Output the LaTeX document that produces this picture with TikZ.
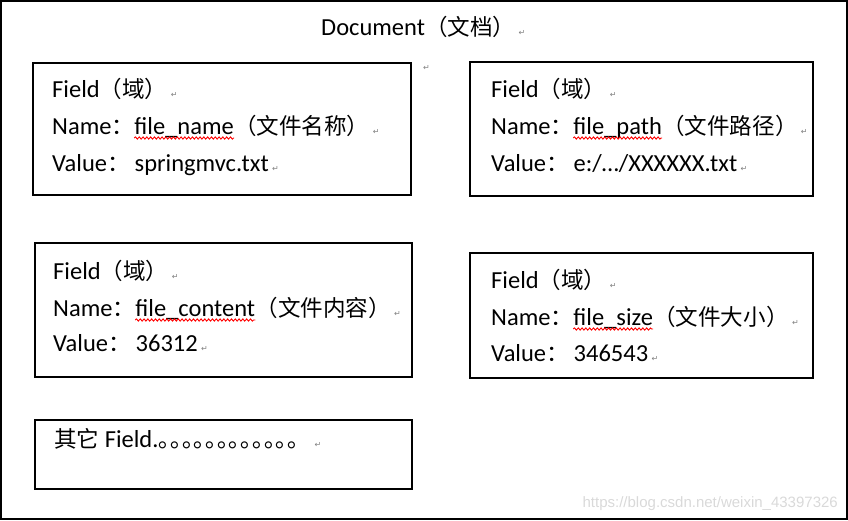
\documentclass[tikz,border=0pt]{standalone}
\usepackage{fontspec}
\setmainfont{Carlito}
\newfontfamily\cjk[Scale=0.92]{Noto Sans CJK SC}
\newfontfamily\symb{DejaVu Sans}
\newfontfamily\wmfont{Liberation Sans}
\usetikzlibrary{decorations.pathmorphing}
\def\bodysize{\fontsize{24.5}{28}\selectfont}
\def\colon{{\cjk ：}\hspace{5pt}}

\begin{document}
\begin{tikzpicture}[x=1pt,y=-1pt]
    \tikzstyle{frame}=[draw=black,line width=2pt,rectangle,inner sep=0pt]
    \tikzstyle{txt}=[anchor=base west,inner sep=0pt,font=\bodysize]
    \tikzstyle{ret}=[anchor=base west,inner sep=0pt,xshift=3pt,font=\symb\fontsize{8}{8}\selectfont,text=gray]
    \tikzstyle{wavy}=[draw=red,line width=0.9pt,decorate,decoration={snake,amplitude=1.1pt,segment length=3.8pt}]

    \useasboundingbox (0,0) rectangle (848,520);
    \node[frame,minimum width=846,minimum height=518] (doc) at (424,260) {};

    \node[txt] (title) at (321,35) {Document{\cjk （文档）}};
    \node[ret] (rtitle) at (title.base east) {↵};
    \node[ret] (rtop) at (420,70) {↵};

    % first row
    \node[frame,minimum width=378,minimum height=132] (box1) at (222,129) {};
    \node[txt] (field1) at (52,97) {Field{\cjk （域）}};
    \node[ret] (rfield1) at (field1.base east) {↵};
    \node[txt] (name1) at (52,134) {Name\colon};
    \node[txt] (key1) at (name1.base east) {file\_name};
    \node[txt] (cn1) at (key1.base east) {\cjk （文件名称）};
    \node[ret] (rname1) at (cn1.base east) {↵};
    \draw[wavy] ([yshift=-4pt]key1.base west) -- ([yshift=-4pt]key1.base east);
    \node[txt] (value1) at (52,171) {Value\colon springmvc.txt};
    \node[ret] (rvalue1) at (value1.base east) {↵};

    \node[frame,minimum width=343,minimum height=134] (box2) at (641.5,129) {};
    \node[txt] (field2) at (491,97) {Field{\cjk （域）}};
    \node[ret] (rfield2) at (field2.base east) {↵};
    \node[txt] (name2) at (491,134) {Name\colon};
    \node[txt] (key2) at (name2.base east) {file\_path};
    \node[txt] (cn2) at (key2.base east) {\cjk （文件路径）};
    \node[ret] (rname2) at (cn2.base east) {↵};
    \draw[wavy] ([yshift=-4pt]key2.base west) -- ([yshift=-4pt]key2.base east);
    \node[txt] (value2) at (491,171) {Value\colon e:/…/XXXXXX.txt};
    \node[ret] (rvalue2) at (value2.base east) {↵};

    % second row
    \node[frame,minimum width=377,minimum height=134] (box3) at (223.5,310) {};
    \node[txt] (field3) at (53,279) {Field{\cjk （域）}};
    \node[ret] (rfield3) at (field3.base east) {↵};
    \node[txt] (name3) at (53,316) {Name\colon};
    \node[txt] (key3) at (name3.base east) {file\_content};
    \node[txt] (cn3) at (key3.base east) {\cjk （文件内容）};
    \node[ret] (rname3) at (cn3.base east) {↵};
    \draw[wavy] ([yshift=-4pt]key3.base west) -- ([yshift=-4pt]key3.base east);
    \node[txt] (value3) at (53,351) {Value\colon 36312};
    \node[ret] (rvalue3) at (value3.base east) {↵};

    \node[frame,minimum width=343,minimum height=125] (box4) at (641.5,315.5) {};
    \node[txt] (field4) at (491,288) {Field{\cjk （域）}};
    \node[ret] (rfield4) at (field4.base east) {↵};
    \node[txt] (name4) at (491,325) {Name\colon};
    \node[txt] (key4) at (name4.base east) {file\_size};
    \node[txt] (cn4) at (key4.base east) {\cjk （文件大小）};
    \node[ret] (rname4) at (cn4.base east) {↵};
    \draw[wavy] ([yshift=-4pt]key4.base west) -- ([yshift=-4pt]key4.base east);
    \node[txt] (value4) at (491,361) {Value\colon 346543};
    \node[ret] (rvalue4) at (value4.base east) {↵};

    % other fields
    \node[frame,minimum width=377,minimum height=69] (box5) at (223.5,454.5) {};
    \node[txt] (other) at (54,447) {{\cjk 其它} Field.{\cjk\fontsize{25.5}{28}\selectfont ｡｡｡｡｡｡｡｡｡｡｡｡}};
    \node[ret,xshift=12pt] (rother) at (other.base east) {↵};

    \node[anchor=base east,inner sep=0pt,font=\wmfont\fontsize{15}{15}\selectfont,text=gray!30] (wm) at (838,507) {https://blog.csdn.net/weixin\_43397326};
\end{tikzpicture}
\end{document}
